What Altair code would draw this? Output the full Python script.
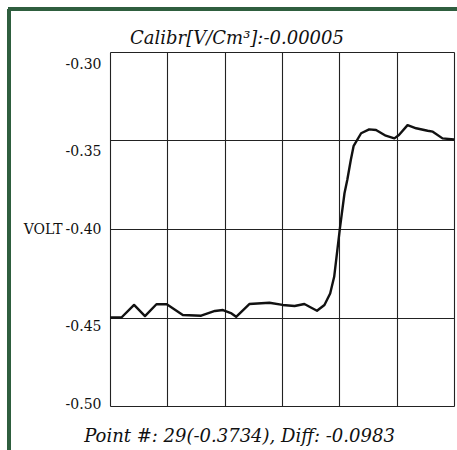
import altair as alt
import pandas as pd

# traced sample positions (x in grid units, 10 per division) and voltages
xs = [0, 2, 4.2, 6.1, 8.1, 9.9, 12.7, 15.9, 18.3, 19.7, 21.2, 22.0, 24.3, 27.8,
      30.1, 32.2, 33.9, 36.1, 37.4, 38.4, 39.1, 40.1, 40.9, 41.4, 42.0, 42.5,
      43.8, 45.2, 46.4, 48.1, 49.6, 50.4, 51.9, 53.4, 55.4, 56.3, 58.0, 60.0]
volts = [-0.4500, -0.4500, -0.4429, -0.4492, -0.4425, -0.4425, -0.4486, -0.4490,
         -0.4463, -0.4458, -0.4477, -0.4496, -0.4424, -0.4417, -0.4429, -0.4435,
         -0.4424, -0.4462, -0.4429, -0.4364, -0.4270, -0.3996, -0.3798, -0.3720,
         -0.3610, -0.3530, -0.3459, -0.3437, -0.3441, -0.3473, -0.3488, -0.3469,
         -0.3413, -0.3431, -0.3445, -0.3450, -0.3488, -0.3494]

y_ticks = [-0.50, -0.45, -0.40, -0.35, -0.30]
x_grid = [0, 10, 20, 30, 40, 50, 60]

title_text = "Calibr[V/Cm³]:-0.00005"
footer_text = "Point #: 29(-0.3734), Diff: -0.0983"
y_title = "VOLT"

df = pd.DataFrame({"x": xs, "v": volts})

SERIF = "DejaVu Serif"

line = alt.Chart(df).mark_line(color="#111111", strokeWidth=2.4, strokeJoin="round").encode(
    x=alt.X("x:Q", scale=alt.Scale(domain=[0, 60], nice=False, zero=False),
            axis=alt.Axis(values=x_grid, labels=False, ticks=False, domain=False,
                          grid=True, gridColor="#222222", gridWidth=1.1,
                          title=footer_text, titleFont=SERIF, titleFontSize=18,
                          titleFontStyle="italic", titleFontWeight="normal",
                          titleColor="#111111", titleX=129, titleY=35,
                          titleAlign="center", titleBaseline="alphabetic")),
    y=alt.Y("v:Q", scale=alt.Scale(domain=[-0.50, -0.30], nice=False, zero=False),
            axis=alt.Axis(values=y_ticks, format=".2f", ticks=False, domain=False,
                          labelExpr="replace(datum.label, '\u2212', '-')",
                          grid=True, gridColor="#222222", gridWidth=1.1,
                          labelFont=SERIF, labelFontSize=14, labelColor="#111111",
                          labelPadding=9, labelBaseline="middle",
                          labelOffset=alt.ExprRef(expr="datum.value > -0.325 ? 12 : datum.value > -0.375 ? 11 : datum.value > -0.425 ? 0 : datum.value > -0.475 ? 9 : -2"),
                          title=y_title, titleAngle=0, titleFont=SERIF, titleFontSize=14,
                          titleFontWeight="normal", titleColor="#111111",
                          titleX=-48, titleY=177, titleAlign="right",
                          titleBaseline="middle")),
)

frame_left = alt.Chart(df).mark_rule(color="#2f5e3f", strokeWidth=3).encode(
    x=alt.value(-101), y=alt.value(-43), y2=alt.value(400))
frame_top = alt.Chart(df).mark_rule(color="#2f5e3f", strokeWidth=3).encode(
    x=alt.value(-102), x2=alt.value(350), y=alt.value(-43))

chart = alt.layer(line, frame_left, frame_top).properties(
    width=344, height=354,
    autosize=alt.AutoSizeParams(type="none"),
    padding={"left": 110, "top": 52, "right": 3, "bottom": 44},
    title=alt.TitleParams(text=title_text, font=SERIF, fontSize=18,
                          fontStyle="italic", fontWeight="normal", color="#111111",
                          anchor="middle", dx=-45, dy=63, offset=9,
                          baseline="alphabetic"),
).configure_view(stroke="#111111", strokeWidth=1.5).configure(background="white")

chart.save("out.html", embed_options={"renderer": "svg", "actions": False})
